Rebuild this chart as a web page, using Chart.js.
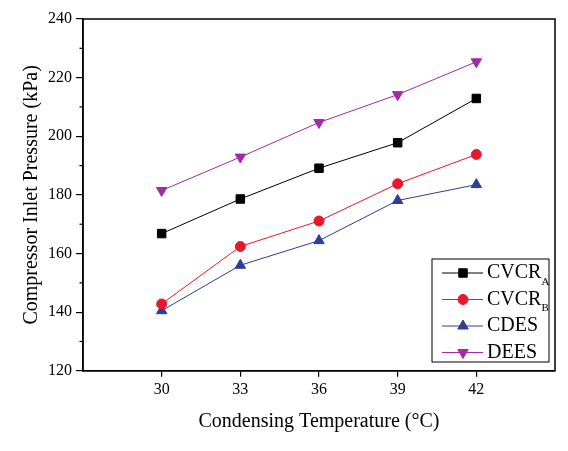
<!DOCTYPE html>
<html>
<head>
<meta charset="utf-8">
<script src="https://cdn.jsdelivr.net/npm/chart.js@4.4.0/dist/chart.umd.min.js"></script>
<style>
  html, body { margin: 0; padding: 0; background: #fff; }
  #wrap { position: relative; width: 568px; height: 451px; }
</style>
</head>
<body>
<div id="wrap"><canvas id="chart"></canvas></div>
<script>
// Condensing temperature (°C)
const temps = [30, 33, 36, 39, 42];
const xTicks = [30, 33, 36, 39, 42];
const yTicks = [120, 140, 160, 180, 200, 220, 240];

// Compressor inlet pressure (kPa)
const cvcrA = [166.8, 178.6, 189.1, 197.8, 212.9];
const cvcrB = [142.8, 162.4, 171.1, 183.8, 193.8];
const cdes  = [140.5, 156.0, 164.4, 178.1, 183.5];
const dees  = [181.5, 192.9, 204.7, 214.2, 225.4];

const SERIF = "'Liberation Serif', 'Times New Roman', serif";

const seriesDefs = [
  { name: 'CVCR', sub: 'A', data: cvcrA, color: '#000000', style: 'rect', radius: 6 },
  { name: 'CVCR', sub: 'B', data: cvcrB, color: '#e8182c', style: 'circle', radius: 5 },
  { name: 'CDES', sub: '', data: cdes, color: '#2e3d9a', style: 'triangle', radius: 6, rotation: 0 },
  { name: 'DEES', sub: '', data: dees, color: '#a52aa5', style: 'triangle', radius: 6, rotation: 180 }
];

const datasets = seriesDefs.map(s => ({
  label: s.name + s.sub,
  data: temps.map((t, i) => ({ x: t, y: s.data[i] })),
  borderColor: s.color,
  backgroundColor: s.color,
  borderWidth: 1,
  pointStyle: s.style,
  pointRadius: s.radius,
  pointRotation: s.rotation || 0,
  pointBorderWidth: 1,
  tension: 0
}));

// box frame, minor y ticks and the legend with subscripts
const framePlugin = {
  id: 'frame',
  afterDraw(chart) {
    const { ctx, chartArea: a, scales } = chart;
    ctx.save();
    ctx.strokeStyle = '#000';
    ctx.lineWidth = 1.5;
    ctx.strokeRect(a.left, a.top, a.right - a.left, a.bottom - a.top);

    // minor ticks on y
    ctx.lineWidth = 1.2;
    for (let v = 130; v < 240; v += 20) {
      const y = scales.y.getPixelForValue(v);
      ctx.beginPath();
      ctx.moveTo(a.left - 3.5, y);
      ctx.lineTo(a.left, y);
      ctx.stroke();
    }

    // legend
    const lx = 432, ly = 259, lw = 117, lh = 103;
    ctx.fillStyle = '#fff';
    ctx.fillRect(lx, ly, lw, lh);
    ctx.lineWidth = 1;
    ctx.strokeRect(lx, ly, lw, lh);
    seriesDefs.forEach((s, i) => {
      const y = ly + 14 + i * 26.5;
      ctx.strokeStyle = s.color;
      ctx.lineWidth = 1;
      ctx.beginPath();
      ctx.moveTo(lx + 10, y);
      ctx.lineTo(lx + 51, y);
      ctx.stroke();
      ctx.fillStyle = s.color;
      Chart.helpers.drawPoint(ctx, {
        pointStyle: s.style, radius: s.radius, rotation: s.rotation || 0, borderWidth: 1
      }, lx + 31, y);
      ctx.fillStyle = '#000';
      ctx.font = '20px ' + SERIF;
      ctx.textBaseline = 'middle';
      ctx.textAlign = 'left';
      ctx.fillText(s.name, lx + 55, y);
      if (s.sub) {
        const w = ctx.measureText(s.name).width;
        ctx.font = '11px ' + SERIF;
        ctx.fillText(s.sub, lx + 55 + w, y + 9);
      }
    });
    ctx.restore();
  }
};

new Chart(document.getElementById('chart'), {
  type: 'line',
  data: { datasets },
  options: {
    responsive: true,
    maintainAspectRatio: false,
    animation: false,
    layout: { padding: { top: 19, right: 13, bottom: 17, left: 20 } },
    plugins: { legend: { display: false }, tooltip: { enabled: false } },
    scales: {
      x: {
        type: 'linear',
        min: 27,
        max: 45,
        afterBuildTicks: scale => { scale.ticks = xTicks.map(v => ({ value: v })); },
        grid: { display: true, drawOnChartArea: false, drawTicks: true, tickLength: 6, color: '#000', lineWidth: 1.2 },
        border: { display: true, color: '#000', width: 1.5 },
        ticks: { color: '#000', font: { family: SERIF, size: 16 }, padding: 3, maxRotation: 0 },
        title: {
          display: true,
          color: '#000',
          font: { family: SERIF, size: 20 },
          text: 'Condensing Temperature (\u00B0C)',
          padding: { top: 8, bottom: 0 }
        }
      },
      y: {
        min: 120,
        max: 240,
        afterBuildTicks: scale => { scale.ticks = yTicks.map(v => ({ value: v })); },
        grid: { display: true, drawOnChartArea: false, drawTicks: true, tickLength: 7, color: '#000', lineWidth: 1.2 },
        border: { display: true, color: '#000', width: 1.5 },
        ticks: { color: '#000', font: { family: SERIF, size: 16 }, padding: 4 },
        title: {
          display: true,
          color: '#000',
          font: { family: SERIF, size: 20 },
          text: 'Compressor Inlet Pressure (kPa)',
          padding: { top: 0, bottom: 0 }
        }
      }
    }
  },
  plugins: [framePlugin]
});
</script>
</body>
</html>
